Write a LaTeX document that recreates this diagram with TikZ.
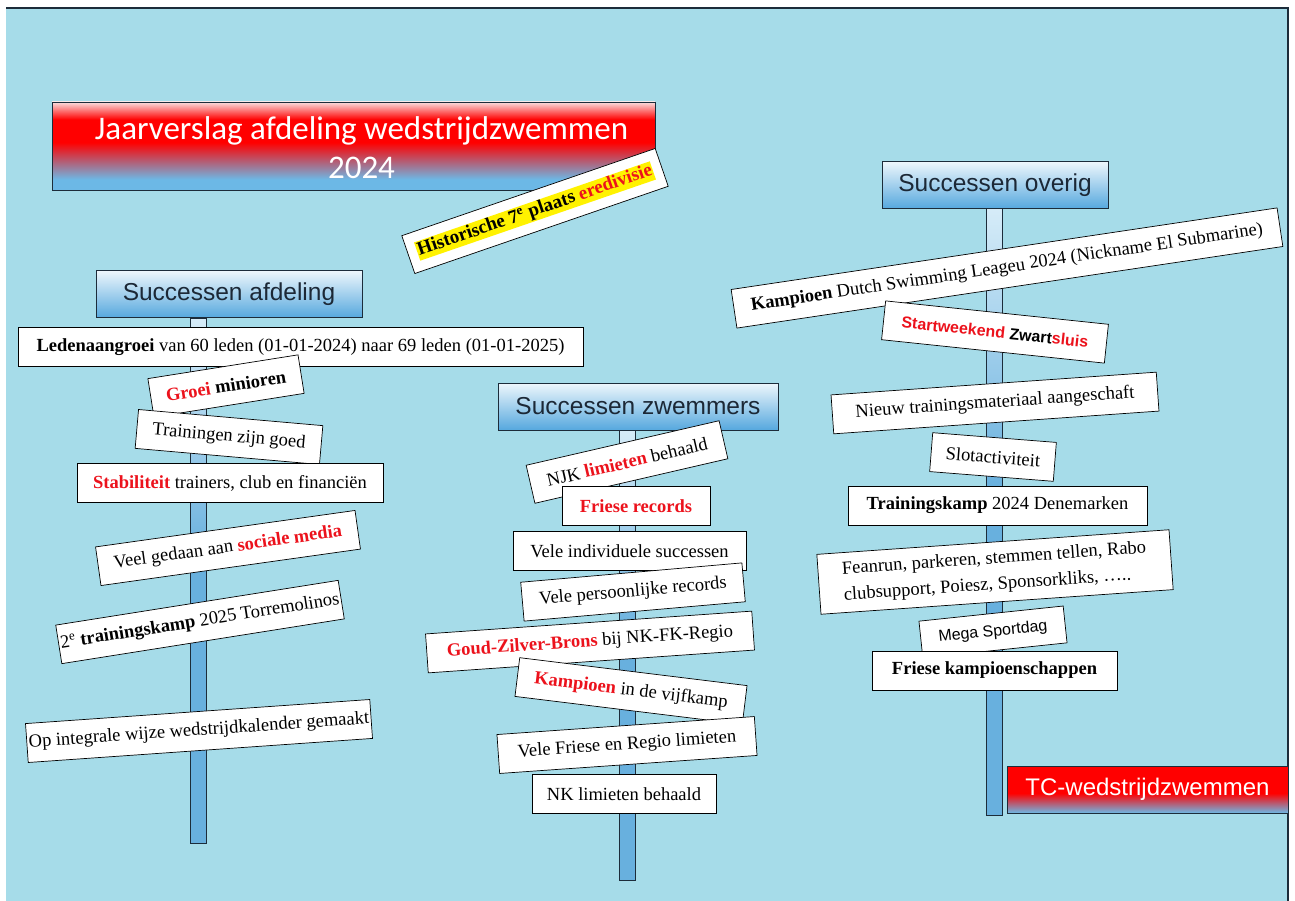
\documentclass[tikz,border=0pt]{standalone}
\usepackage{fontspec}
\setmainfont{Liberation Serif}
\newfontfamily\kopfont{Liberation Sans}
\newfontfamily\titelfont{Carlito}
\setlength{\fboxsep}{1pt}

\definecolor{water}{RGB}{166,220,233}
\definecolor{rand}{RGB}{28,44,58}
\definecolor{rood}{RGB}{236,18,28}
\definecolor{fel}{RGB}{255,0,0}
\definecolor{kopblauw}{RGB}{86,168,222}
\definecolor{koplicht}{RGB}{238,247,252}
\definecolor{kopinkt}{RGB}{28,40,54}
\definecolor{paalblauw}{RGB}{104,176,222}
\definecolor{paallicht}{RGB}{214,236,248}
\definecolor{titelroze}{RGB}{250,222,222}
\definecolor{titelblauw}{RGB}{108,184,230}

\pgfdeclareverticalshading{titelshade}{100bp}{color(0bp)=(titelblauw); color(25bp)=(titelblauw); color(31bp)=(titelblauw); color(52bp)=(fel); color(65bp)=(fel); color(75bp)=(titelroze); color(100bp)=(titelroze)}
\pgfdeclareverticalshading{tcshade}{100bp}{color(0bp)=(titelblauw); color(25bp)=(titelblauw); color(46bp)=(fel); color(100bp)=(fel)}
\pgfdeclareverticalshading{paalshade}{100bp}{color(0bp)=(paalblauw); color(52bp)=(paalblauw); color(75bp)=(paallicht); color(100bp)=(paallicht)}

\newcommand{\roodvet}[1]{\textcolor{rood}{\textbf{#1}}}

\begin{document}
\begin{tikzpicture}[x=1pt,y=-1pt,
  bord/.style={draw=black,fill=white,line width=0.7pt,inner sep=2pt,minimum height=39pt,font=\fontsize{18.5}{22}\selectfont},
  kop/.style={draw=rand,line width=0.8pt,top color=koplicht,bottom color=kopblauw,text=kopinkt,minimum height=47pt,font=\kopfont\fontsize{24.5}{28}\selectfont},
  paal/.style={draw=rand,line width=1pt,shading=paalshade},
  banner/.style={draw=rand,line width=0.8pt,shade,text=white,inner sep=0pt}]

\useasboundingbox (0,0) rectangle (1295,901);
\fill[white] (0,0) rectangle (1295,901);

%achtergrond:
\fill[water] (6,8) rectangle (1288,901);
\draw[rand,line width=1.2pt] (6,8) -- (1288,8) -- (1288,901);

%palen:
\foreach \x/\boven/\onder in {198/318/843, 627.5/430/880, 994/208/815}
        \shadedraw[paal] (\x-8,\boven) rectangle (\x+8,\onder);

\node[banner,shading=titelshade,minimum width=603pt,minimum height=88pt] (titel) at (353.5,146) {};
\node[text=white,align=center,font=\titelfont\fontsize{33}{39}\selectfont] (titeltekst) at ([xshift=8pt,yshift=-2pt]titel.center)
      {Jaarverslag afdeling wedstrijdzwemmen\\2024};
\node[bord,rotate=19,minimum width=268pt,minimum height=40pt,font=\bfseries\fontsize{19}{21}\selectfont] (historisch) at (535,211)
      {\colorbox{yellow}{Historische 7\textsuperscript{e} plaats \textcolor{rood}{eredivisie}}};

%%%%%%%%%%%%%%%
%% LINKS: afdeling

\node[kop,minimum width=266pt] (afdeling) at (229,294) {Successen afdeling};
\node[bord,minimum width=565pt] (leden) at (300.5,347) {\textbf{Ledenaangroei} van 60 leden (01-01-2024) naar 69 leden (01-01-2025)};
\node[bord,rotate=9,minimum width=152pt] (groei) at (226,386) {\roodvet{Groei} \textbf{minioren}};
\node[bord,rotate=-5,minimum width=185pt] (trainingen) at (229,437) {Trainingen zijn goed};
\node[bord,minimum width=306pt] (stabiliteit) at (230,483) {\roodvet{Stabiliteit} trainers, club en financiën};
\node[bord,rotate=8,minimum width=262pt] (sociaal) at (228,548) {Veel gedaan aan \roodvet{sociale media}};
\node[bord,rotate=9,minimum width=276pt] (kamp25) at (200,622) {2\textsuperscript{e} \textbf{trainingskamp} 2025 Torremolinos};
\node[bord,rotate=4,minimum width=328pt] (kalender) at (199,731) {Op integrale wijze wedstrijdkalender gemaakt};

%%%%%%%%%%%%%%%
%% MIDDEN: zwemmers

\node[kop,minimum width=280pt] (zwemmers) at (638,406.5) {Successen zwemmers};
\node[bord,rotate=13,minimum width=198pt] (njk) at (627,462) {NJK \roodvet{limieten} behaald};
\node[bord,minimum width=148pt] (records) at (636,506) {\roodvet{Friese records}};
\node[bord,minimum width=233pt] (individueel) at (629.5,551) {Vele individuele successen};
\node[bord,rotate=5,minimum width=222pt] (persoonlijk) at (633,592) {Vele persoonlijke records};
\node[bord,rotate=4,minimum width=327pt] (medailles) at (590,642) {\roodvet{Goud-Zilver-Brons} bij NK-FK-Regio};
\node[bord,rotate=-7,minimum width=229pt] (vijfkamp) at (631,691) {\roodvet{Kampioen} in de vijfkamp};
\node[bord,rotate=4,minimum width=258pt] (regio) at (627,745) {Vele Friese en Regio limieten};
\node[bord,minimum width=184pt] (nk) at (624,794) {NK limieten behaald};

%%%%%%%%%%%%%%%
%% RECHTS: overig

\node[kop,minimum width=226pt] (overig) at (995,185) {Successen overig};
\node[bord,rotate=8.5,minimum width=552pt] (league) at (1007,268) {\textbf{Kampioen} Dutch Swimming Leageu 2024 (Nickname El Submarine)};
\node[bord,rotate=-6,minimum width=224pt,font=\kopfont\bfseries\fontsize{16}{19}\selectfont] (startweekend) at (995,332)
      {\textcolor{rood}{Startweekend} Zwart\textcolor{rood}{sluis}};
\node[bord,rotate=4,minimum width=326pt] (materiaal) at (995,403) {Nieuw trainingsmateriaal aangeschaft};
\node[bord,rotate=-4.5,minimum width=124pt] (slot) at (993,457) {Slotactiviteit};
\node[bord,minimum width=299pt] (kamp24) at (997.5,505.5) {\textbf{Trainingskamp} 2024 Denemarken};
\node[bord,rotate=4,minimum width=353pt,minimum height=60pt,align=left,font=\fontsize{18.5}{26}\selectfont] (acties) at (995,572)
      {Feanrun, parkeren, stemmen tellen, Rabo\\clubsupport, Poiesz, Sponsorkliks, …..};
\node[bord,rotate=6,minimum width=145pt,minimum height=37pt,font=\kopfont\fontsize{16}{19}\selectfont] (sportdag) at (993,632) {Mega Sportdag};
\node[bord,minimum width=245pt] (fk) at (994.5,670.5) {\textbf{Friese kampioenschappen}};

\node[banner,shading=tcshade,minimum width=281pt,minimum height=47pt,
      font=\kopfont\fontsize{24}{28}\selectfont] (tc) at (1147.5,789.5) {TC-wedstrijdzwemmen};

\end{tikzpicture}
\end{document}
